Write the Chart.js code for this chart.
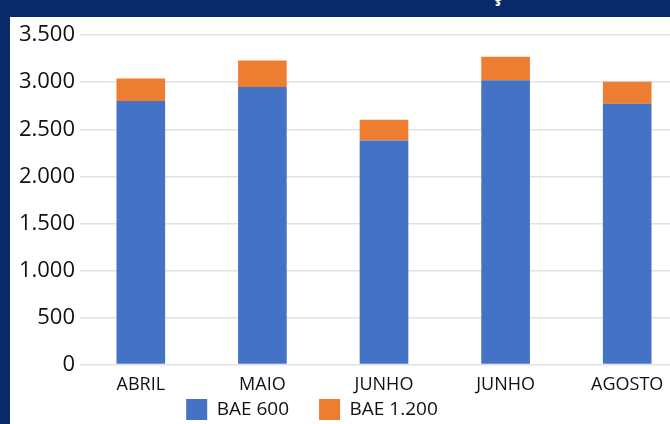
<!DOCTYPE html>
<html>
<head>
<meta charset="utf-8">
<script src="https://cdn.jsdelivr.net/npm/chart.js@4.4.1/dist/chart.umd.min.js"></script>
<style>
    html, body { margin: 0; padding: 0; width: 670px; height: 424px; overflow: hidden; background: #082a6b; }
    #titulo { position: absolute; left: 0; top: 0; width: 670px; height: 17px; overflow: hidden; }
    #titulo span { position: absolute; left: 492px; top: -16px; font: bold 20px "Open Sans", sans-serif; line-height: 20px; color: #fff; }
    #painel { position: absolute; left: 10px; top: 17px; width: 680px; height: 442px; background: #fff; }
</style>
</head>
<body>
<div id="titulo"><span>ç</span></div>
<div id="painel"><canvas id="grafico" width="680" height="442"></canvas></div>
<script>
// Dados
const meses = ['ABRIL', 'MAIO', 'JUNHO', 'JUNHO', 'AGOSTO'];
const bae600 = [2800, 2950, 2380, 3020, 2770];
const bae1200 = [240, 280, 220, 250, 235];

const AZUL = '#4472c4';
const LARANJA = '#ed7d31';
const FONTE = '"Open Sans", sans-serif';

// formata 3500 -> 3.500
function milhar(v) {
    return String(v).replace(/\B(?=(\d{3})+(?!\d))/g, '.');
}

// a legenda fica mais à esquerda e mais perto do eixo no original
const moveLegenda = {
    id: 'moveLegenda',
    afterLayout(chart) {
        const lg = chart.legend;
        const dy = (lg.top + lg.options.labels.padding) - 382;
        lg.left -= 37; lg.right -= 37;
        lg.top -= dy; lg.bottom -= dy;
    }
};

new Chart(document.getElementById('grafico'), {
    type: 'bar',
    data: {
        labels: meses,
        datasets: [
            { label: 'BAE 600', data: bae600, backgroundColor: AZUL },
            { label: 'BAE 1.200', data: bae1200, backgroundColor: LARANJA }
        ]
    },
    options: {
        responsive: false,
        animation: false,
        categoryPercentage: 0.8,
        barPercentage: 0.5,
        layout: { padding: { top: 17, right: 2, left: 0, bottom: 0 } },
        scales: {
            x: {
                stacked: true,
                grid: { display: false },
                border: { display: false },
                ticks: { color: '#111', padding: 2, maxRotation: 0, font: { family: FONTE, size: 18 } }
            },
            y: {
                stacked: true,
                min: 0,
                max: 3500,
                ticks: { stepSize: 500, color: '#111', padding: 5, font: { family: FONTE, size: 22 }, callback: (v) => milhar(v) },
                grid: { color: '#e2e2e2', lineWidth: 1.5, drawTicks: false },
                border: { display: false },
                afterFit: (s) => { s.width = 70; }
            }
        },
        plugins: {
            legend: {
                position: 'bottom',
                labels: { boxWidth: 21, boxHeight: 21, padding: 30, color: '#111', font: { family: FONTE, size: 19 } }
            },
            tooltip: { enabled: false }
        }
    },
    plugins: [moveLegenda]
});
</script>
</body>
</html>
